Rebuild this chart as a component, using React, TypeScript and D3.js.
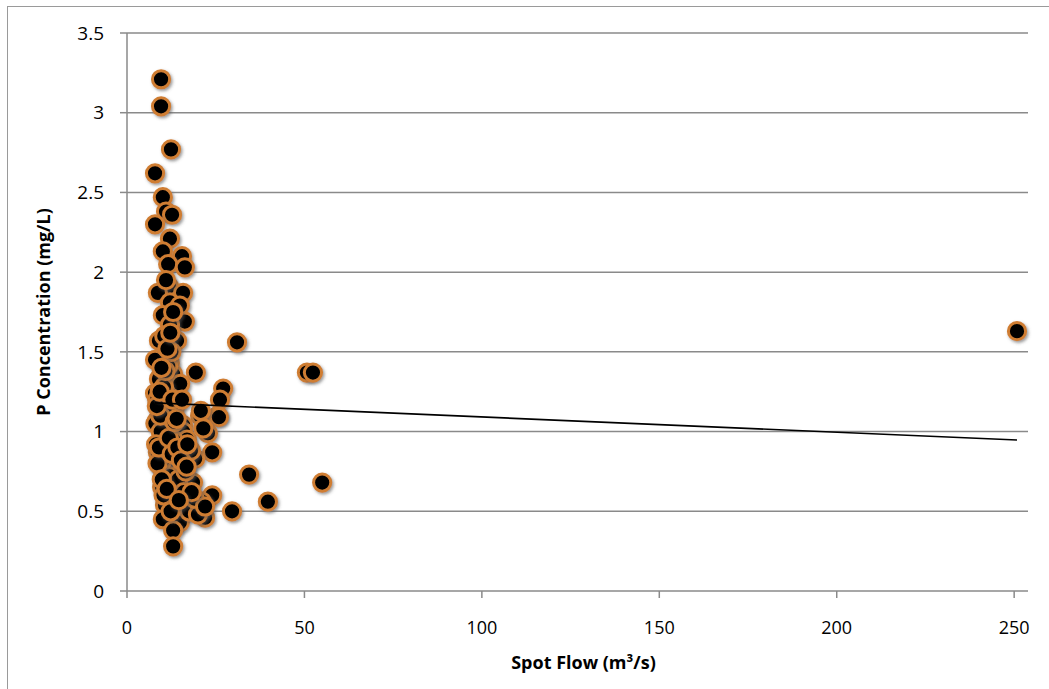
import React from "react";
import * as d3 from "d3";

const flowValues: number[] = [
  9.6, 9.6, 12.4, 7.9, 10.1, 11.0, 12.7, 7.9, 12.1, 10.1, 15.5, 11.6, 16.3,
  11.8, 8.7, 15.8, 12.1, 14.9, 10.1, 16.3, 12.1, 9.0, 14.1, 31.0,
  7.9, 12.1, 13.0, 19.4, 11.6, 50.7, 52.4,
  7.9, 10.1, 14.1, 11.3, 27.1, 26.2,
  12.1, 20.6, 25.6, 8.5, 15.8, 25.9, 20.8,
  15.8, 22.8, 10.7, 16.9, 8.7, 24.0, 19.2, 13.5, 34.4,
  12.7, 18.6, 9.9, 55.0, 24.0, 14.1, 21.1, 10.7, 39.7,
  10.1, 14.9, 22.0, 29.6, 13.0, 13.0, 250.8,
  8.0, 9.3, 10.5, 11.5, 9.5, 12.0, 10.0, 13.5, 11.0, 9.0, 12.5, 10.5, 13.0,
  14.5, 16.0, 17.5, 20.0, 18.0, 15.0, 13.0, 11.0, 9.5, 8.5, 10.3, 12.3, 16.5,
  19.0, 22.0, 21.5,
  8.2, 8.6, 9.0, 9.4, 9.8, 10.4, 11.2, 11.8, 12.6, 13.4, 14.2, 15.2, 8.4,
  9.2, 10.8, 12.8, 14.0, 16.8, 18.2, 17.0, 11.4, 12.2, 9.7, 15.5, 14.6,
];
const concValues: number[] = [
  3.21, 3.04, 2.77, 2.62, 2.47, 2.38, 2.36, 2.30, 2.21, 2.13, 2.10, 2.05, 2.03,
  1.91, 1.87, 1.87, 1.81, 1.79, 1.73, 1.69, 1.67, 1.57, 1.57, 1.56,
  1.45, 1.43, 1.36, 1.37, 1.41, 1.37, 1.37,
  1.24, 1.23, 1.24, 1.22, 1.27, 1.20,
  1.10, 1.10, 1.10, 1.07, 1.04, 1.09, 1.13,
  1.00, 0.99, 0.92, 0.95, 0.87, 0.87, 0.83, 0.79, 0.73,
  0.68, 0.68, 0.65, 0.68, 0.60, 0.56, 0.56, 0.54, 0.56,
  0.45, 0.43, 0.46, 0.50, 0.38, 0.28, 1.63,
  1.05, 1.15, 0.98, 0.85, 0.78, 0.72, 0.82, 1.15, 1.30, 1.33, 1.50, 1.60, 0.95,
  0.70, 0.62, 0.50, 0.48, 0.88, 1.30, 1.75, 1.95, 1.00, 1.20, 0.60, 0.50, 0.75,
  0.58, 0.53, 1.02,
  0.92, 0.80, 0.90, 1.10, 0.70, 1.28, 0.64, 0.96, 0.86, 1.06, 0.90, 0.82, 1.16,
  1.25, 1.38, 1.20, 1.08, 0.78, 0.62, 0.92, 1.52, 1.62, 1.40, 1.20, 0.57,
];

const trendFlow: number[] = [7.9, 250.8];
const trendConc: number[] = [1.18, 0.947];

const xTicks: number[] = [0, 50, 100, 150, 200, 250];
const yTicks: number[] = [0, 0.5, 1, 1.5, 2, 2.5, 3, 3.5];

const xTitle = "Spot Flow (m³/s)";
const yTitle = "P Concentration (mg/L)";

export default function App() {
  const W = 1049;
  const H = 689;
  const left = 127;
  const right = 1028;
  const top = 33;
  const bottom = 591;
  const x = d3.scaleLinear().domain([0, 253.9]).range([left, right]);
  const y = d3.scaleLinear().domain([0, 3.5]).range([bottom, top]);
  const gridColor = "#8a8a8a";
  const font = "'Open Sans', 'DejaVu Sans', sans-serif";
  const points = flowValues.map((f, i) => ({ f, c: concValues[i] }));
  const line = d3
    .line<number>()
    .x((d) => x(d))
    .y((_, i) => y(trendConc[i]));

  return (
    <svg
      width={W}
      height={H}
      style={{ position: "absolute", left: 0, top: 0, background: "#fff" }}
    >
      <defs>
        <filter id="sh" x="-50%" y="-50%" width="200%" height="200%">
          <feDropShadow dx="1.5" dy="1.8" stdDeviation="1.5" floodColor="#555" floodOpacity="0.6" />
        </filter>
      </defs>
      <rect x={7.5} y={6.5} width={1060} height={700} fill="#fff" stroke="#9a9a9a" strokeWidth={1} />
      {yTicks.map((t) => (
        <g key={t}>
          {t > 0 && (
            <line x1={left} x2={right} y1={y(t)} y2={y(t)} stroke={gridColor} strokeWidth={1.5} />
          )}
          <line x1={left - 7} x2={left} y1={y(t)} y2={y(t)} stroke={gridColor} strokeWidth={1.5} />
          <text
            x={104}
            y={y(t)}
            dy="0.35em"
            textAnchor="end"
            fontFamily={font}
            fontSize={19}
            fill="#000"
          >
            {t}
          </text>
        </g>
      ))}
      <line x1={left} x2={left} y1={top} y2={bottom} stroke={gridColor} strokeWidth={1.5} />
      <line x1={left} x2={right} y1={bottom} y2={bottom} stroke={gridColor} strokeWidth={1.5} />
      {xTicks.map((t) => (
        <g key={t}>
          <line x1={x(t)} x2={x(t)} y1={bottom} y2={bottom + 7} stroke={gridColor} strokeWidth={1.5} />
          <text
            x={x(t)}
            y={628}
            dy="0.35em"
            textAnchor="middle"
            fontFamily={font}
            fontSize={18}
            fill="#000"
          >
            {t}
          </text>
        </g>
      ))}
      <text
        x={(left + right) / 2 + 6}
        y={663}
        dy="0.35em"
        textAnchor="middle"
        fontFamily={font}
        fontWeight="bold"
        fontSize={18}
      >
        {xTitle}
      </text>
      <text
        transform={`translate(44, ${(top + bottom) / 2}) rotate(-90)`}
        dy="0.35em"
        textAnchor="middle"
        fontFamily={font}
        fontWeight="bold"
        fontSize={18}
      >
        {yTitle}
      </text>
      <g>
        {points.map((p, i) => (
          <circle
            key={i}
            cx={x(p.f)}
            cy={y(p.c)}
            r={8.6}
            fill="#000"
            stroke="#cf7d33"
            strokeWidth={3}
            filter="url(#sh)"
          />
        ))}
      </g>
      <path d={line(trendFlow) || ""} fill="none" stroke="#000" strokeWidth={1.6} />
    </svg>
  );
}
